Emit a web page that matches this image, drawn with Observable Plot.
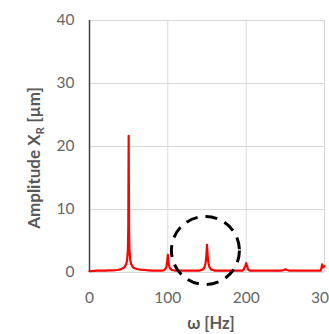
<!DOCTYPE html>
<html>
<head>
<meta charset="utf-8">
<script src="https://cdn.jsdelivr.net/npm/d3@7"></script>
<script src="https://cdn.jsdelivr.net/npm/@observablehq/plot@0.6"></script>
<style>
html, body { margin: 0; padding: 0; background: #fff; overflow: hidden; }
#chart svg { overflow: visible; display: block; }
</style>
</head>
<body>
<div id="chart"></div>
<script>
const freq = [0, 5, 10, 15, 20, 25, 30, 35, 40, 43, 45, 47, 48, 49, 49.5, 50, 50.5, 51, 52, 53, 55, 57, 60, 65, 70, 75, 80, 85, 90, 95, 97, 98, 99, 100, 101, 102, 103, 105, 110, 120, 130, 140, 145, 147, 148, 149, 150, 151, 152, 153, 155, 160, 170, 180, 190, 195, 197, 198, 199, 200, 201, 202, 203, 205, 215, 225, 235, 245, 248, 250, 252, 255, 265, 275, 285, 295, 296, 297, 298, 299, 300];
const amplitude = [0.2, 0.25, 0.3, 0.3, 0.3, 0.35, 0.35, 0.4, 0.5, 0.7, 0.9, 1.4, 2.0, 3.5, 7.0, 21.7, 7.0, 3.5, 2.0, 1.4, 0.9, 0.7, 0.55, 0.45, 0.4, 0.35, 0.3, 0.3, 0.3, 0.35, 0.6, 0.9, 1.5, 2.8, 1.5, 0.9, 0.6, 0.4, 0.3, 0.3, 0.3, 0.3, 0.5, 0.9, 1.4, 2.3, 4.4, 2.3, 1.4, 0.9, 0.5, 0.3, 0.3, 0.3, 0.3, 0.3, 0.5, 0.8, 1.1, 1.5, 1.1, 0.7, 0.4, 0.3, 0.3, 0.3, 0.3, 0.3, 0.4, 0.5, 0.4, 0.3, 0.3, 0.3, 0.3, 0.3, 0.6, 1.3, 0.8, 0.9, 1.0];
const xTicks = [0, 100, 200, 300];
const yTicks = [0, 10, 20, 30, 40];
const highlightX = [148];
const highlightY = [3.5];
const xTitle = "ω [Hz]";
const yTitleMain = "Amplitude X";
const yTitleSub = "R";
const yTitleEnd = " [µm]";

const data = freq.map((f, i) => ({f, a: amplitude[i]}));
const highlight = highlightX.map((x, i) => ({x, y: highlightY[i]}));

const font = "Lato, 'Open Sans', sans-serif";
const gray = "#595959";

const plot = Plot.plot({
  width: 329,
  height: 334,
  marginTop: 20,
  marginBottom: 62,
  marginLeft: 89,
  marginRight: 5,
  style: {fontFamily: font, fontSize: "15.5px", color: "#666", background: "white"},
  x: {domain: [0, 300], ticks: xTicks, tickSize: 0, tickPadding: 19, label: null},
  y: {domain: [0, 40], ticks: yTicks, tickSize: 0, tickPadding: 15, label: null},
  marks: [
    Plot.ruleX(xTicks.slice(1), {stroke: "#d9d9d9", strokeWidth: 1}),
    Plot.ruleY(yTicks, {stroke: "#d9d9d9", strokeWidth: 1}),
    Plot.ruleX([0], {stroke: "#404040", strokeWidth: 1.5}),
    Plot.line(data, {x: "f", y: "a", stroke: "#ff0000", strokeWidth: 2.2}),
    Plot.dot(highlight, {x: "x", y: "y", r: 34, stroke: "black", strokeWidth: 3, strokeDasharray: "12,8", fill: "none"})
  ]
});

const svg = d3.select(plot);
svg.append("text")
  .attr("x", 211).attr("y", 329)
  .attr("text-anchor", "middle")
  .attr("font-family", font).attr("font-weight", "bold").attr("font-size", 16.5)
  .attr("fill", gray)
  .text(xTitle);
const yt = svg.append("text")
  .attr("transform", "translate(39.5,158) rotate(-90)")
  .attr("text-anchor", "middle")
  .attr("font-family", font).attr("font-weight", "bold").attr("font-size", 17)
  .attr("fill", gray);
yt.append("tspan").text(yTitleMain);
yt.append("tspan").attr("font-size", 11.5).attr("dy", 4).text(yTitleSub);
yt.append("tspan").attr("dy", -4).text(yTitleEnd);

document.getElementById("chart").appendChild(plot);
</script>
</body>
</html>
